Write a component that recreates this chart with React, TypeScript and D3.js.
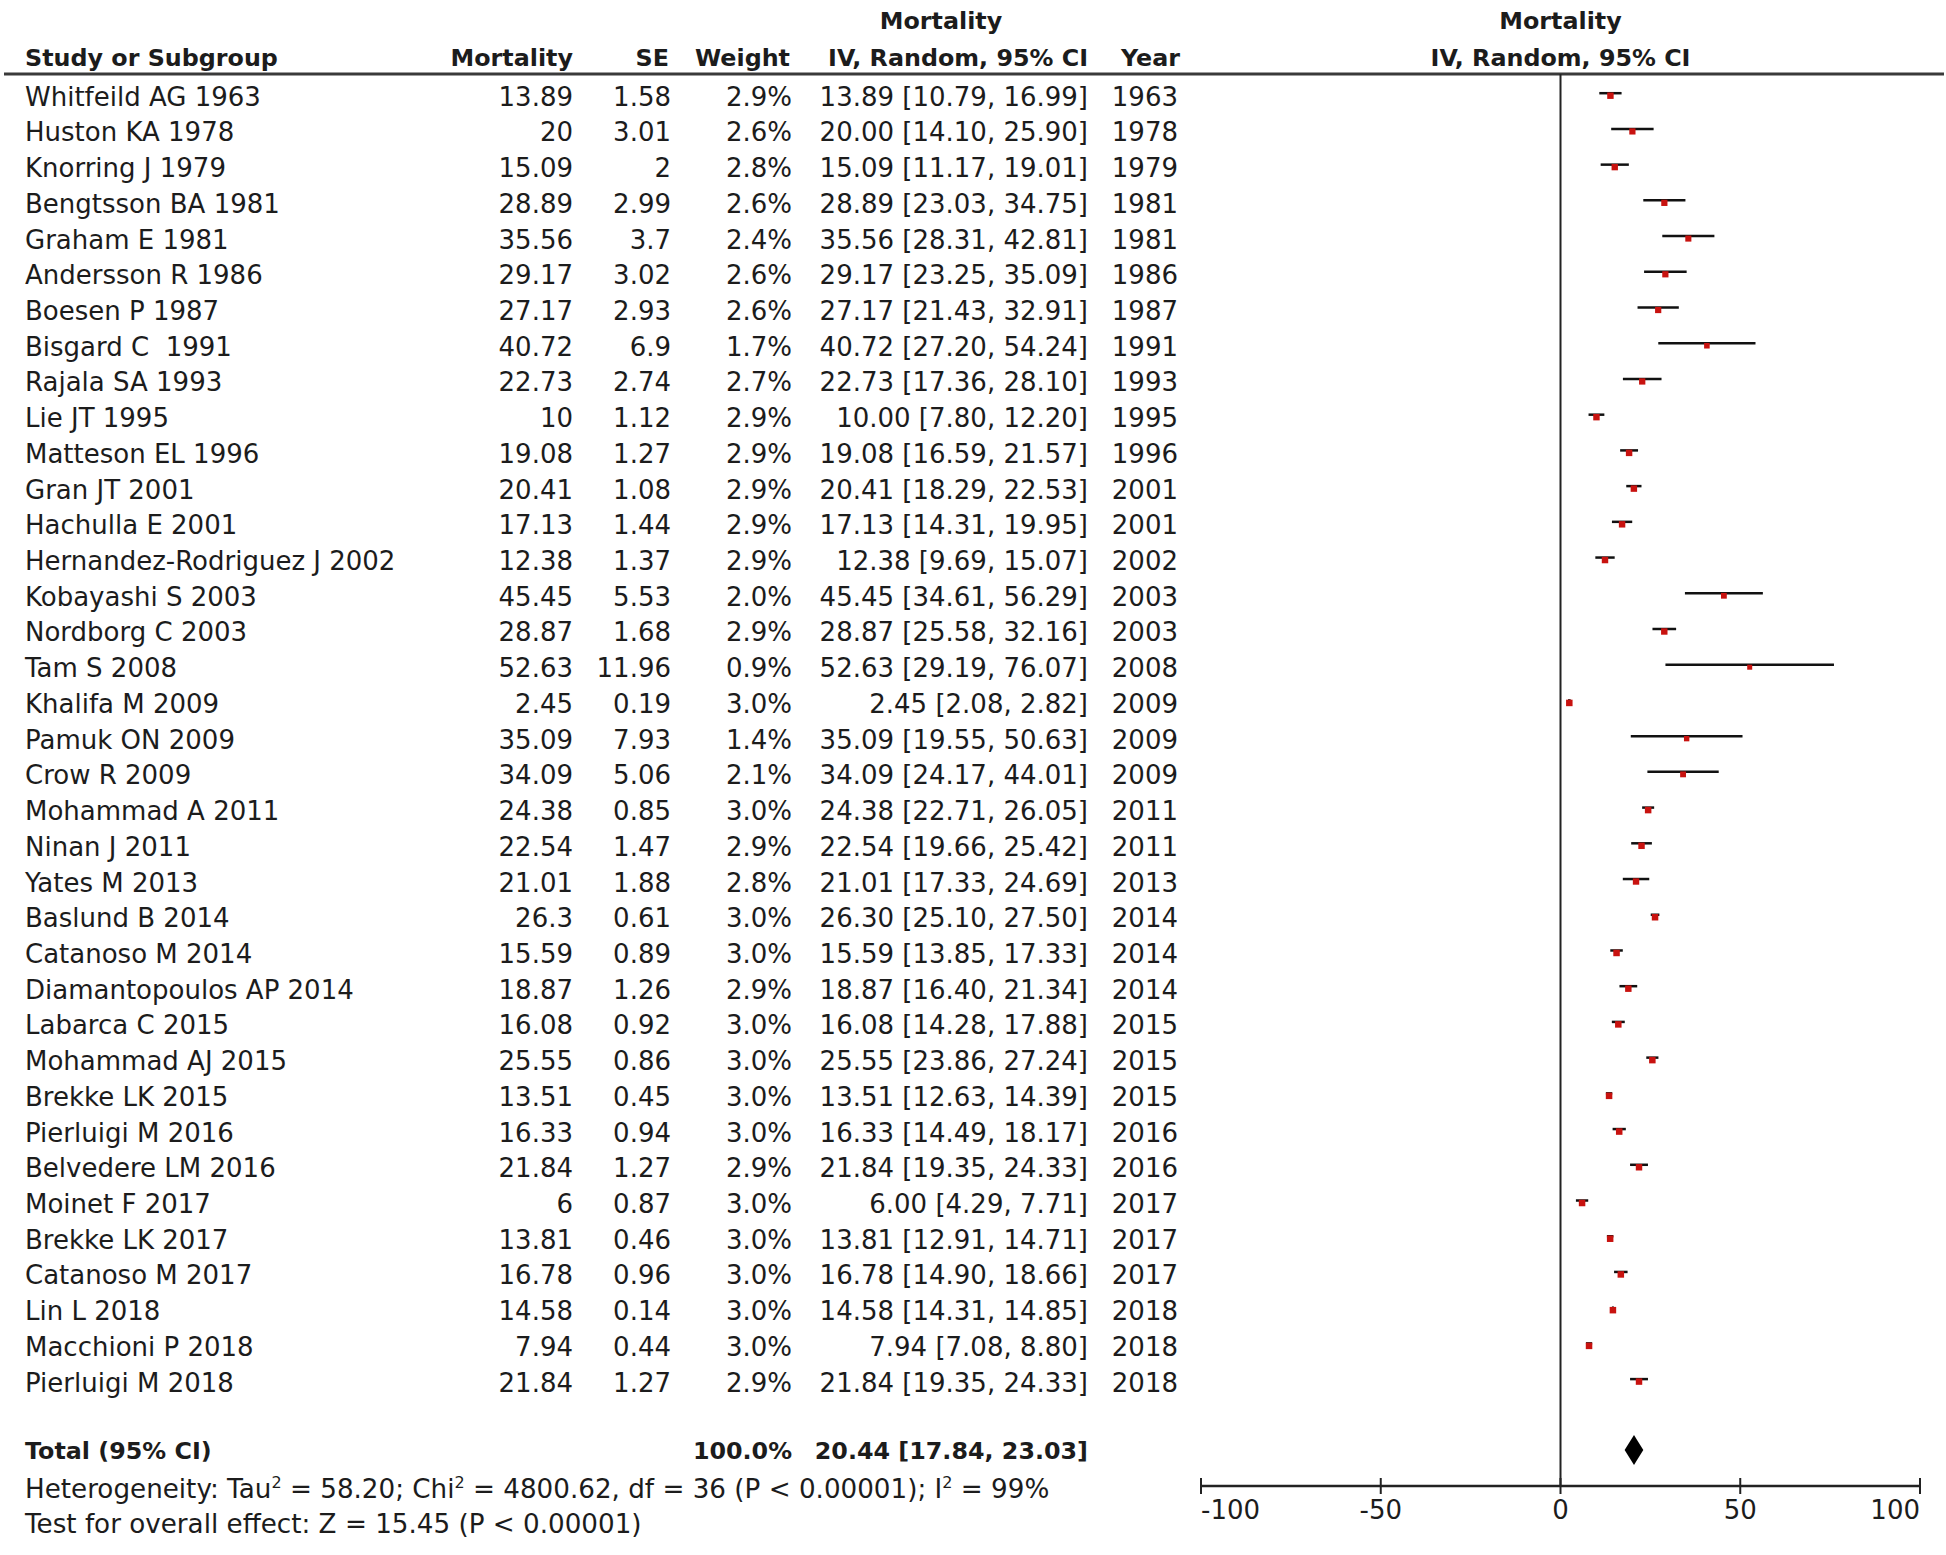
import React from 'react';
import * as d3 from 'd3';

// ---------- data ----------
const studies = [
  'Whitfeild AG 1963', 'Huston KA 1978', 'Knorring J 1979', 'Bengtsson BA 1981', 'Graham E 1981',
  'Andersson R 1986', 'Boesen P 1987', 'Bisgard C  1991', 'Rajala SA 1993', 'Lie JT 1995',
  'Matteson EL 1996', 'Gran JT 2001', 'Hachulla E 2001', 'Hernandez-Rodriguez J 2002', 'Kobayashi S 2003',
  'Nordborg C 2003', 'Tam S 2008', 'Khalifa M 2009', 'Pamuk ON 2009', 'Crow R 2009',
  'Mohammad A 2011', 'Ninan J 2011', 'Yates M 2013', 'Baslund B 2014', 'Catanoso M 2014',
  'Diamantopoulos AP 2014', 'Labarca C 2015', 'Mohammad AJ 2015', 'Brekke LK 2015', 'Pierluigi M 2016',
  'Belvedere LM 2016', 'Moinet F 2017', 'Brekke LK 2017', 'Catanoso M 2017', 'Lin L 2018',
  'Macchioni P 2018', 'Pierluigi M 2018',
];
const mortality = [
  13.89, 20, 15.09, 28.89, 35.56, 29.17, 27.17, 40.72, 22.73, 10,
  19.08, 20.41, 17.13, 12.38, 45.45, 28.87, 52.63, 2.45, 35.09, 34.09,
  24.38, 22.54, 21.01, 26.3, 15.59, 18.87, 16.08, 25.55, 13.51, 16.33,
  21.84, 6, 13.81, 16.78, 14.58, 7.94, 21.84,
];
const se = [
  1.58, 3.01, 2, 2.99, 3.7, 3.02, 2.93, 6.9, 2.74, 1.12,
  1.27, 1.08, 1.44, 1.37, 5.53, 1.68, 11.96, 0.19, 7.93, 5.06,
  0.85, 1.47, 1.88, 0.61, 0.89, 1.26, 0.92, 0.86, 0.45, 0.94,
  1.27, 0.87, 0.46, 0.96, 0.14, 0.44, 1.27,
];
const weights = [
  2.9, 2.6, 2.8, 2.6, 2.4, 2.6, 2.6, 1.7, 2.7, 2.9,
  2.9, 2.9, 2.9, 2.9, 2.0, 2.9, 0.9, 3.0, 1.4, 2.1,
  3.0, 2.9, 2.8, 3.0, 3.0, 2.9, 3.0, 3.0, 3.0, 3.0,
  2.9, 3.0, 3.0, 3.0, 3.0, 3.0, 2.9,
];
const ciLower = [
  10.79, 14.10, 11.17, 23.03, 28.31, 23.25, 21.43, 27.20, 17.36, 7.80,
  16.59, 18.29, 14.31, 9.69, 34.61, 25.58, 29.19, 2.08, 19.55, 24.17,
  22.71, 19.66, 17.33, 25.10, 13.85, 16.40, 14.28, 23.86, 12.63, 14.49,
  19.35, 4.29, 12.91, 14.90, 14.31, 7.08, 19.35,
];
const ciUpper = [
  16.99, 25.90, 19.01, 34.75, 42.81, 35.09, 32.91, 54.24, 28.10, 12.20,
  21.57, 22.53, 19.95, 15.07, 56.29, 32.16, 76.07, 2.82, 50.63, 44.01,
  26.05, 25.42, 24.69, 27.50, 17.33, 21.34, 17.88, 27.24, 14.39, 18.17,
  24.33, 7.71, 14.71, 18.66, 14.85, 8.80, 24.33,
];
const years = [
  1963, 1978, 1979, 1981, 1981, 1986, 1987, 1991, 1993, 1995,
  1996, 2001, 2001, 2002, 2003, 2003, 2008, 2009, 2009, 2009,
  2011, 2011, 2013, 2014, 2014, 2014, 2015, 2015, 2015, 2016,
  2016, 2017, 2017, 2017, 2018, 2018, 2018,
];
const axisTicks = [-100, -50, 0, 50, 100];
const axisDomain = [-100, 100];
const totalLabel = 'Total (95% CI)';
const totalWeight = 100.0;
const totalEstimate = [20.44, 17.84, 23.03];
const tau2 = '58.20';
const chi2 = '4800.62';
const dfValue = 36;
const pText = 'P < 0.00001';
const i2 = '99%';
const zValue = '15.45';

// ---------- layout ----------
const W = 1946;
const H = 1555;
const FONT = "'DejaVu Sans', 'Noto Sans', sans-serif";
const FS = 26;
const FSB = 23.8;
const FSN = 26.2;
const TXT = '#1c1c1c';

const nameX = 25;
const mortR = 573;
const seR = 671;
const wR = 792;
const ciR = 1088;
const yearR = 1178;

export default function App() {
  const n = studies.length;
  const y = d3.scalePoint<number>().domain(d3.range(n)).range([105.7, 1391.6]);
  const x = d3.scaleLinear().domain(axisDomain).range([1201, 1920]);
  const sq = d3.scaleLinear().domain([0.9, 3.0]).range([5.0, 6.5]);

  const axisY = 1486;
  const headerRuleY = 74;
  const totalY = 1459.3;
  const diamondCY = 1450;
  const diamondHalf = 15;

  const [te, tl, tu] = totalEstimate;
  const diamond = d3.line()([
    [x(tl), diamondCY],
    [x(te), diamondCY - diamondHalf],
    [x(tu), diamondCY],
    [x(te), diamondCY + diamondHalf],
  ]) + 'Z';

  const textStyle: React.CSSProperties = { whiteSpace: 'pre' };

  return (
    <svg
      width={W}
      height={H}
      viewBox={`0 0 ${W} ${H}`}
      style={{ position: 'absolute', left: 0, top: 0, background: '#fff', display: 'block' }}
      fontFamily={FONT}
    >
      <rect x={0} y={0} width={W} height={H} fill="#fff" />

      {/* headers */}
      <g fontWeight="bold" fontSize={FSB} fill={TXT}>
        <text x={941} y={29} textAnchor="middle">Mortality</text>
        <text x={x(0)} y={29} textAnchor="middle">Mortality</text>
        <text x={nameX} y={66}>Study or Subgroup</text>
        <text x={mortR} y={66} textAnchor="end">Mortality</text>
        <text x={seR - 2} y={66} textAnchor="end">SE</text>
        <text x={wR - 2} y={66} textAnchor="end">Weight</text>
        <text x={ciR} y={66} textAnchor="end">IV, Random, 95% CI</text>
        <text x={yearR + 2} y={66} textAnchor="end">Year</text>
        <text x={x(0)} y={66} textAnchor="middle">IV, Random, 95% CI</text>
      </g>
      <line x1={4} x2={1944} y1={headerRuleY} y2={headerRuleY} stroke="#3a3a3a" strokeWidth={3} />

      {/* zero line */}
      <line x1={x(0)} x2={x(0)} y1={headerRuleY} y2={axisY} stroke="#222" strokeWidth={2} />

      {/* study rows */}
      <g fontSize={FS} fill={TXT}>
        {studies.map((s, i) => {
          const yy = y(i)!;
          return (
            <g key={i}>
              <text x={nameX} y={yy} style={textStyle}>{s}</text>
              <text x={mortR} y={yy} textAnchor="end">{String(mortality[i])}</text>
              <text x={seR} y={yy} textAnchor="end">{String(se[i])}</text>
              <text x={wR} y={yy} textAnchor="end">{weights[i].toFixed(1) + '%'}</text>
              <text x={ciR} y={yy} textAnchor="end">
                {`${mortality[i].toFixed(2)} [${ciLower[i].toFixed(2)}, ${ciUpper[i].toFixed(2)}]`}
              </text>
              <text x={yearR} y={yy} textAnchor="end">{String(years[i])}</text>
            </g>
          );
        })}
      </g>

      {/* forest marks */}
      <g>
        {studies.map((s, i) => {
          const ly = y(i)! - 12.5;
          const size = sq(weights[i]);
          return (
            <g key={i}>
              <line x1={x(ciLower[i])} x2={x(ciUpper[i])} y1={ly} y2={ly} stroke="#111" strokeWidth={2.5} />
              <rect
                x={x(mortality[i]) - size / 2}
                y={ly + 2.5 - size / 2}
                width={size}
                height={size}
                fill="#c8120f"
              />
            </g>
          );
        })}
      </g>

      {/* total row */}
      <g fontWeight="bold" fontSize={FSB} fill={TXT}>
        <text x={nameX} y={totalY}>{totalLabel}</text>
        <text x={wR} y={totalY} textAnchor="end">{totalWeight.toFixed(1) + '%'}</text>
        <text x={ciR} y={totalY} textAnchor="end">
          {`${te.toFixed(2)} [${tl.toFixed(2)}, ${tu.toFixed(2)}]`}
        </text>
      </g>
      <path d={diamond} fill="#000" />

      {/* footnotes */}
      <g fontSize={FSN} fill={TXT}>
        <text x={nameX} y={1498}>
          <tspan>Heterogeneity: Tau</tspan>
          <tspan dy={-10} fontSize={16}>2</tspan>
          <tspan dy={10}>{` = ${tau2}; Chi`}</tspan>
          <tspan dy={-10} fontSize={16}>2</tspan>
          <tspan dy={10}>{` = ${chi2}, df = ${dfValue} (${pText}); I`}</tspan>
          <tspan dy={-10} fontSize={16}>2</tspan>
          <tspan dy={10}>{` = ${i2}`}</tspan>
        </text>
        <text x={nameX} y={1533}>{`Test for overall effect: Z = ${zValue} (${pText})`}</text>
      </g>

      {/* axis */}
      <g>
        <line x1={x(axisDomain[0])} x2={x(axisDomain[1])} y1={axisY} y2={axisY} stroke="#222" strokeWidth={2.5} />
        {axisTicks.map((t, i) => (
          <g key={t}>
            <line x1={x(t)} x2={x(t)} y1={axisY - 8} y2={axisY + 8} stroke="#222" strokeWidth={2} />
            <text
              x={x(t)}
              y={1519}
              fontSize={FS}
              fill={TXT}
              textAnchor={i === 0 ? 'start' : i === axisTicks.length - 1 ? 'end' : 'middle'}
            >
              {String(t)}
            </text>
          </g>
        ))}
      </g>
    </svg>
  );
}
